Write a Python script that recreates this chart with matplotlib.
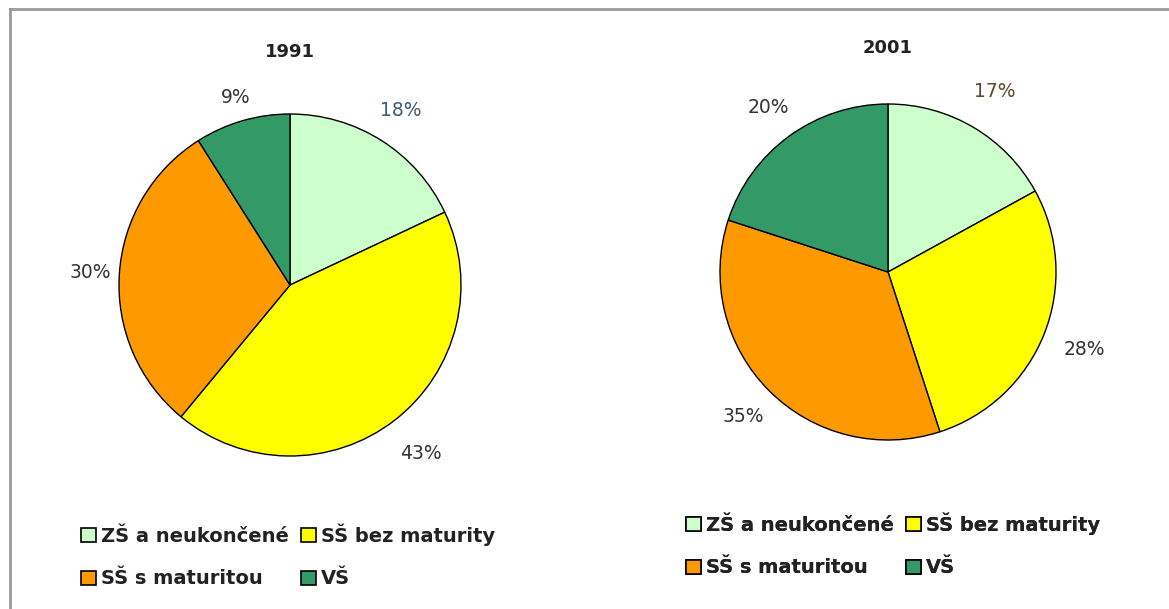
import matplotlib
matplotlib.use("Agg")
import numpy as np
import matplotlib.pyplot as plt
from matplotlib.patches import Patch
from matplotlib.lines import Line2D

W, H = 1169, 609

categories = ["ZŠ a neukončené", "SŠ bez maturity", "SŠ s maturitou", "VŠ"]
colors = ["#ccffcc", "#ffff00", "#ff9900", "#339966"]
years = ["1991", "2001"]
values_1991 = [18, 43, 30, 9]
values_2001 = [17, 28, 35, 20]
label_colors_1991 = ["#3f5a78", "#333333", "#333333", "#333333"]
label_colors_2001 = ["#5a4a2a", "#333333", "#333333", "#333333"]
# how far from the centre each percentage label sits (in radii)
label_dist_1991 = [1.21, 1.245, 1.17, 1.14]
label_dist_2001 = [1.25, 1.26, 1.22, 1.21]

plt.rcParams['font.family'] = ['DejaVu Sans']

fig = plt.figure(figsize=(W / 100, H / 100), dpi=100)
ax = fig.add_axes([0, 0, 1, 1])

# frame of the original picture (top and left edges only)
ax.add_line(Line2D([10, W], [H - 9, H - 9], color="#999999", lw=2))
ax.add_line(Line2D([10, 10], [H - 9, 0], color="#999999", lw=2))

pies = [
    (values_1991, label_colors_1991, label_dist_1991, (290, H - 285), 171, (290, H - 52), (81, H - 556)),
    (values_2001, label_colors_2001, label_dist_2001, (888, H - 272), 168, (888, H - 48), (686, H - 545)),
]

for (vals, lcols, ldist, center, r, title_xy, leg_xy), year in zip(pies, years):
    wedges, _ = ax.pie(
        vals, colors=colors, startangle=90, counterclock=False,
        center=center, radius=r,
        wedgeprops=dict(edgecolor="black", linewidth=1.0),
    )
    for w, v, c, d in zip(wedges, vals, lcols, ldist):
        ang = np.deg2rad((w.theta1 + w.theta2) / 2)
        ax.text(center[0] + d * r * np.cos(ang), center[1] + d * r * np.sin(ang),
                f"{v}%", ha="center", va="center", fontsize=13.5, color=c)
    ax.text(title_xy[0], title_xy[1], year, ha="center", va="center",
            fontsize=13, fontweight="bold", color="#222222")

    handles = [Patch(facecolor=c, edgecolor="black", linewidth=1.2) for c in colors]
    order = [0, 2, 1, 3]
    leg = ax.legend([handles[i] for i in order], [categories[i] for i in order],
                    ncol=2, frameon=False, loc="center left",
                    bbox_to_anchor=(leg_xy[0] / W, leg_xy[1] / H),
                    bbox_transform=fig.transFigure,
                    prop=dict(size=14, weight="bold"),
                    handlelength=0.75, handleheight=0.75,
                    handletextpad=0.3, columnspacing=0.6, labelspacing=1.2,
                    borderpad=0, borderaxespad=0)
    for txt in leg.get_texts():
        txt.set_color("#222222")
    ax.add_artist(leg)

ax.set_xlim(0, W)
ax.set_ylim(0, H)
ax.set_aspect("equal")
ax.axis("off")

fig.savefig("out.png", dpi=100, facecolor="white")
